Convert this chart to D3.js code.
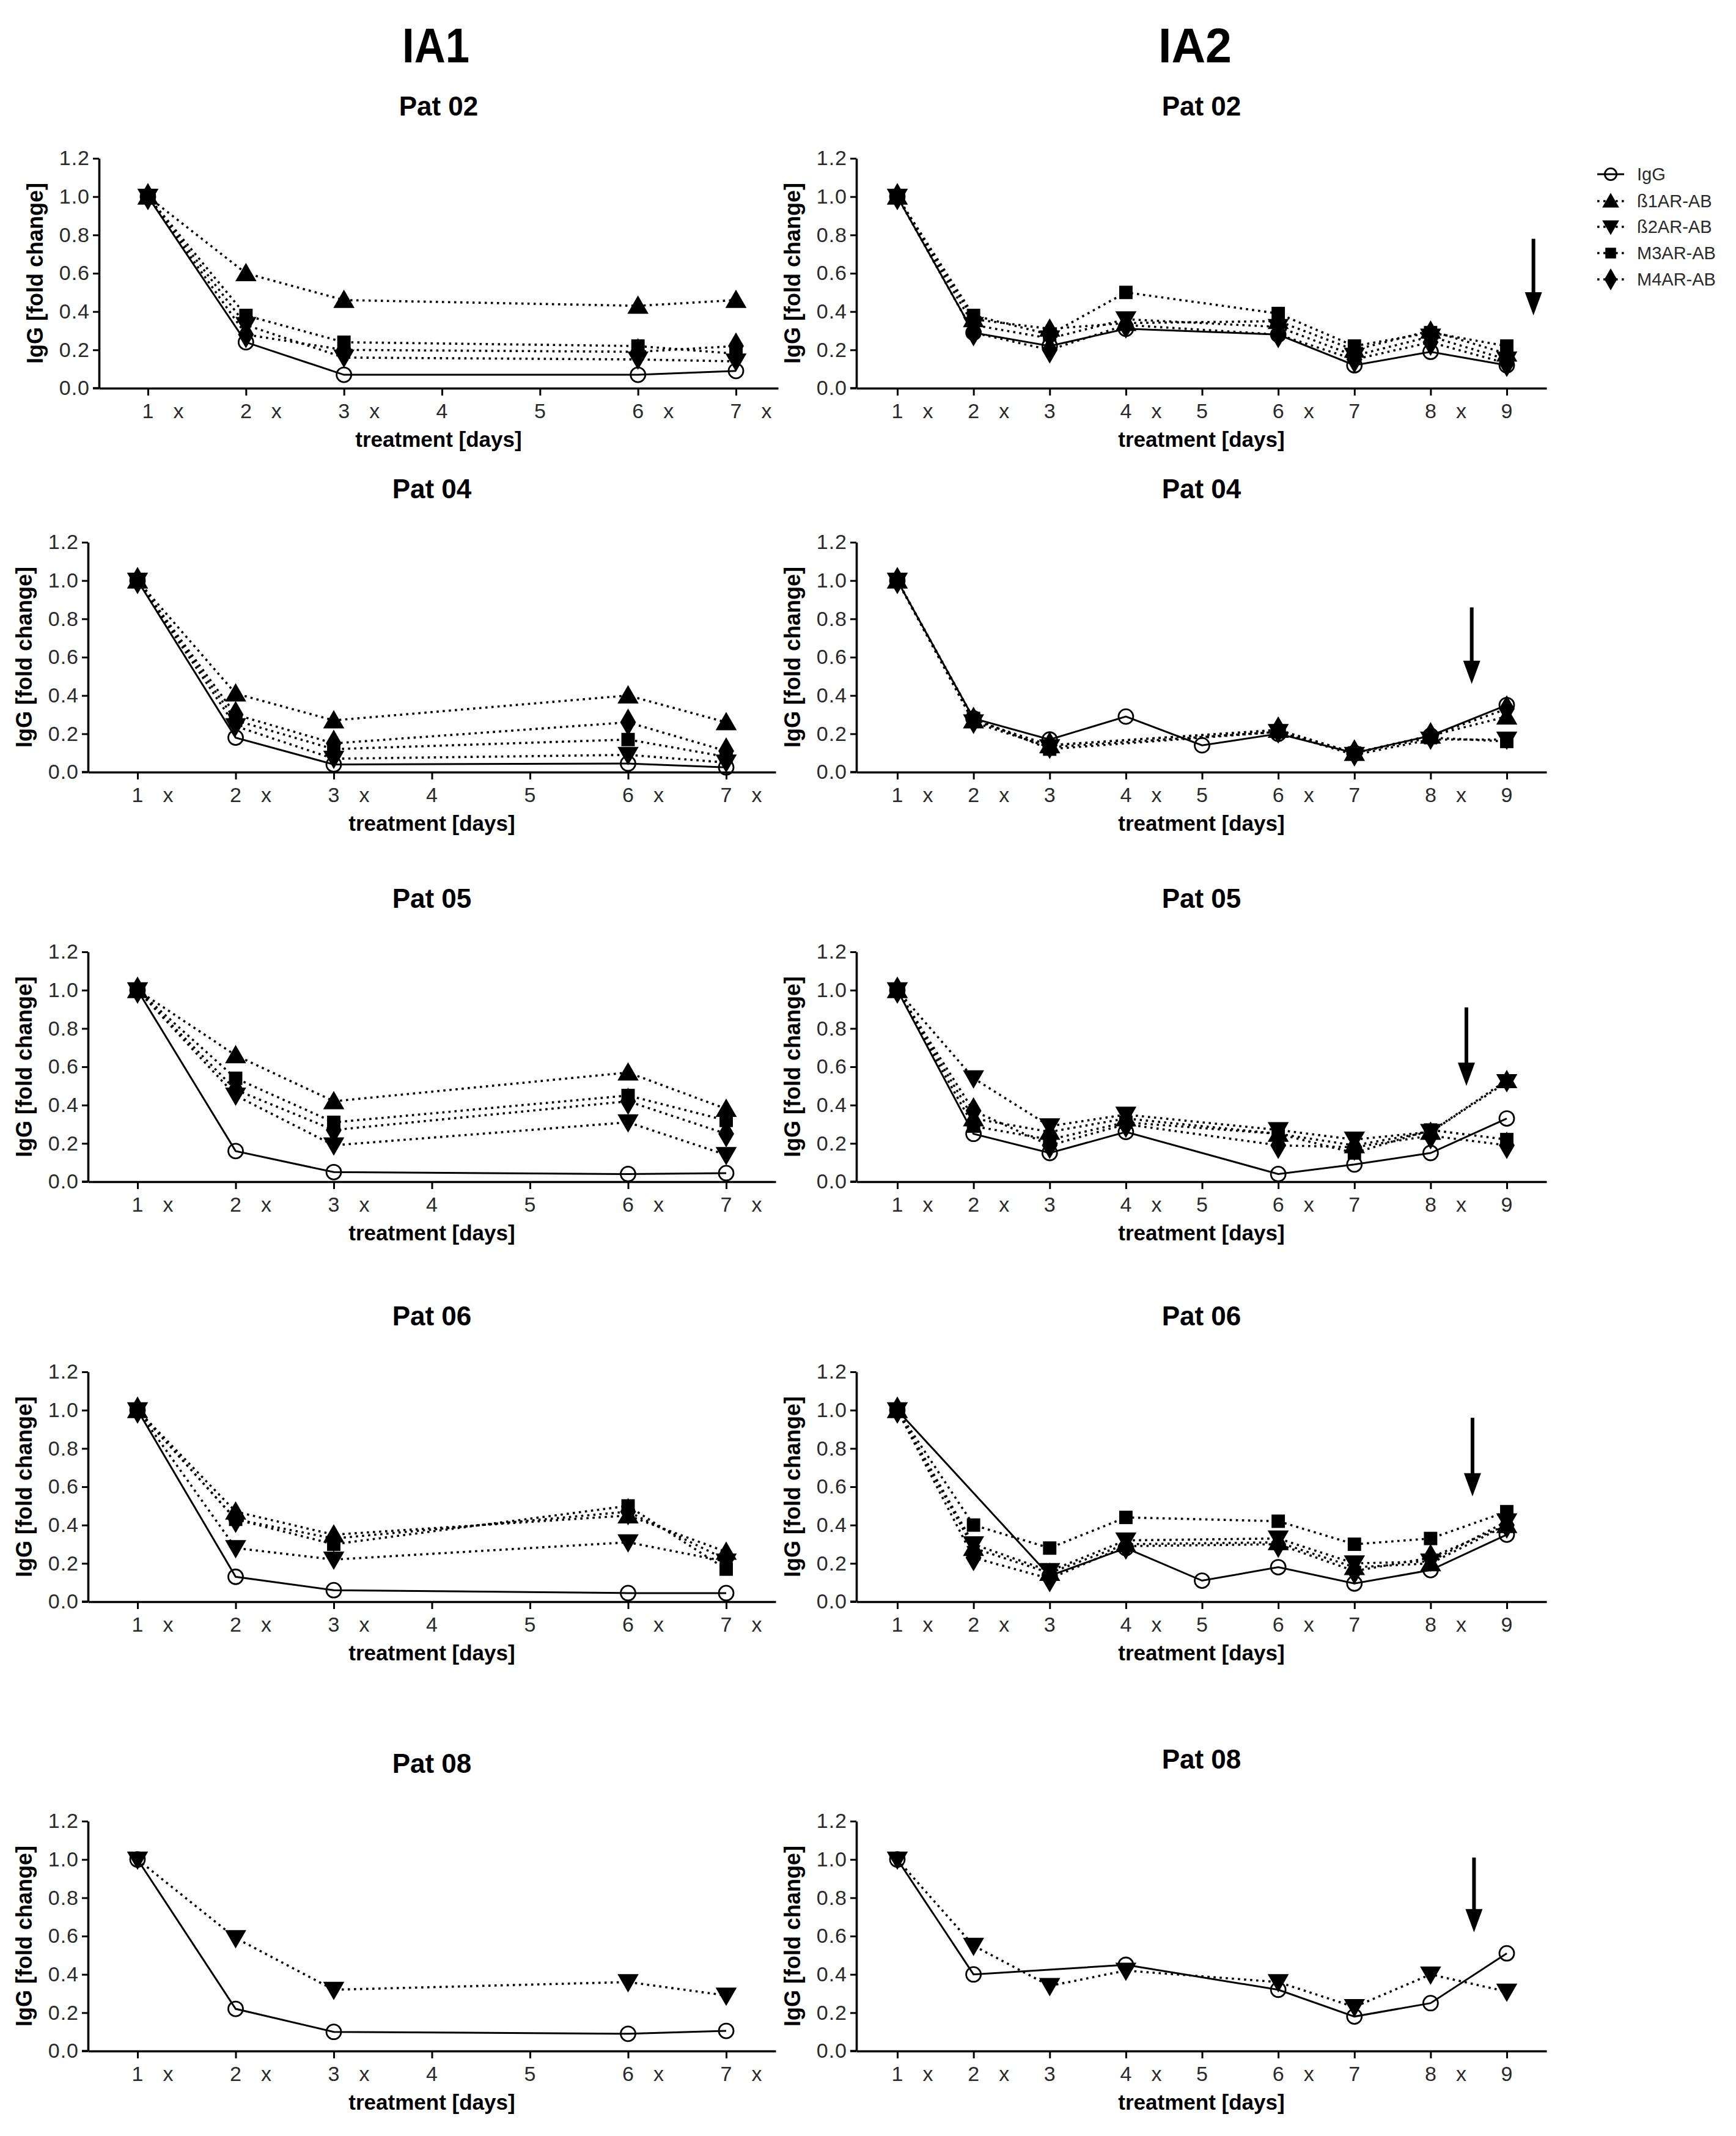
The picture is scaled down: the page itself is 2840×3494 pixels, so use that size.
<!DOCTYPE html>
<html><head><meta charset="utf-8">
<script src="https://cdn.jsdelivr.net/npm/d3@7"></script>
<style>body{margin:0;background:#fff} svg{display:block}</style>
</head><body>
<svg id="c" width="2840" height="3494"></svg>
<script>
// ---------------- DATA ----------------
const seriesNames = ["IgG", "ß1AR-AB", "ß2AR-AB", "M3AR-AB", "M4AR-AB"];
const groupTitles = ["IA1", "IA2"];
const patients = ["Pat 02", "Pat 04", "Pat 05", "Pat 06", "Pat 08"];
const ia1Days = [1, 2, 3, 6, 7];
const ia2Days = [1, 2, 3, 4, 5, 6, 7, 8, 9];
const ia1Ticks = [1, 2, 3, 4, 5, 6, 7];
const ia2Ticks = [1, 2, 3, 4, 5, 6, 7, 8, 9];
const ia1TreatDays = [1, 2, 3, 6, 7];   // days marked with "x"
const ia2TreatDays = [1, 2, 4, 6, 8];
const yTicks = [0, 0.2, 0.4, 0.6, 0.8, 1.0, 1.2];

// series order: IgG, ß1AR-AB, ß2AR-AB, M3AR-AB, M4AR-AB  (null = not measured)
const ia1Pat02 = [
  [1, 0.24, 0.07, 0.07, 0.09],
  [1, 0.60, 0.46, 0.43, 0.46],
  [1, 0.33, 0.16, 0.15, 0.14],
  [1, 0.38, 0.24, 0.22, 0.18],
  [1, 0.28, 0.20, 0.19, 0.22]
];
const ia1Pat04 = [
  [1, 0.18, 0.04, 0.045, 0.025],
  [1, 0.41, 0.27, 0.40, 0.26],
  [1, 0.24, 0.07, 0.09, 0.05],
  [1, 0.27, 0.12, 0.17, 0.08],
  [1, 0.30, 0.15, 0.26, 0.11]
];
const ia1Pat05 = [
  [1, 0.16, 0.05, 0.04, 0.045],
  [1, 0.66, 0.42, 0.57, 0.38],
  [1, 0.45, 0.19, 0.31, 0.14],
  [1, 0.54, 0.31, 0.45, 0.32],
  [1, 0.48, 0.27, 0.42, 0.25]
];
const ia1Pat06 = [
  [1, 0.13, 0.06, 0.045, 0.045],
  [1, 0.47, 0.35, 0.45, 0.26],
  [1, 0.28, 0.22, 0.31, 0.21],
  [1, 0.43, 0.30, 0.50, 0.17],
  [1, 0.43, 0.33, 0.47, 0.22]
];
const ia1Pat08 = [
  [1, 0.22, 0.10, 0.09, 0.105],
  null,
  [1, 0.59, 0.32, 0.36, 0.29],
  null,
  null
];
const ia2Pat02 = [
  [1, 0.29, 0.22, 0.31, null, 0.28, 0.12, 0.19, 0.12],
  [1, 0.36, 0.31, 0.34, null, 0.35, 0.20, 0.30, 0.18],
  [1, 0.33, 0.26, 0.36, null, 0.32, 0.17, 0.27, 0.15],
  [1, 0.38, 0.28, 0.50, null, 0.39, 0.22, 0.29, 0.22],
  [1, 0.29, 0.20, 0.33, null, 0.28, 0.15, 0.24, 0.13]
];
const ia2Pat04 = [
  [1, 0.28, 0.17, 0.29, 0.14, 0.20, 0.10, 0.19, 0.35],
  [1, 0.27, 0.14, null, null, 0.22, 0.10, 0.19, 0.29],
  [1, 0.26, 0.13, null, null, 0.21, 0.09, 0.17, 0.17],
  [1, 0.28, 0.12, null, null, 0.21, 0.10, 0.18, 0.16],
  [1, 0.27, 0.14, null, null, 0.22, 0.10, 0.19, 0.33]
];
const ia2Pat05 = [
  [1, 0.25, 0.15, 0.26, null, 0.04, 0.09, 0.15, 0.33],
  [1, 0.33, 0.26, 0.33, null, 0.25, 0.19, 0.26, 0.53],
  [1, 0.54, 0.29, 0.35, null, 0.27, 0.22, 0.26, 0.52],
  [1, 0.29, 0.22, 0.31, null, 0.25, 0.15, 0.27, 0.22],
  [1, 0.37, 0.19, 0.30, null, 0.19, 0.18, 0.24, 0.19]
];
const ia2Pat06 = [
  [1, null, 0.135, 0.28, 0.11, 0.18, 0.095, 0.165, 0.35],
  [1, 0.28, 0.15, 0.30, null, 0.31, 0.18, 0.20, 0.40],
  [1, 0.30, 0.16, 0.32, null, 0.33, 0.20, 0.21, 0.42],
  [1, 0.40, 0.28, 0.44, null, 0.42, 0.30, 0.33, 0.47],
  [1, 0.23, 0.12, 0.29, null, 0.30, 0.16, 0.23, 0.40]
];
const ia2Pat08 = [
  [1, 0.40, null, 0.45, null, 0.32, 0.18, 0.25, 0.51],
  null,
  [1, 0.55, 0.34, 0.42, null, 0.36, 0.23, 0.40, 0.31],
  null,
  null
];
// arrows in IA2 panels (day position, top value, tip value)
const arrowDay = [9.35, 8.54, 8.47, 8.55, 8.57];
const arrowTop = [0.78, 0.86, 0.91, 0.96, 1.01];
const arrowTip = [0.38, 0.46, 0.50, 0.55, 0.62];

const ia1Panels = [ia1Pat02, ia1Pat04, ia1Pat05, ia1Pat06, ia1Pat08];
const ia2Panels = [ia2Pat02, ia2Pat04, ia2Pat05, ia2Pat06, ia2Pat08];

// ---------------- LAYOUT ----------------
const rowY = [[259, 635], [887, 1263], [1557, 1933], [2244, 2620], [2979, 3355]];
const titleBase = [[189, 189], [815, 815], [1485, 1485], [2168, 2168], [2900, 2893]];
function colLayout(c, r) {
  if (c === 1) return {axisX: 1401, t1: 1468, tN: 2465, end: 2530};
  if (r === 0) return {axisX: 162, t1: 242, tN: 1204, end: 1273};
  return {axisX: 144, t1: 225, tN: 1188, end: 1269};
}
const FONT = "'Liberation Sans', Arial, Helvetica, sans-serif";
const svg = d3.select("#c");

const symbolTypes = [d3.symbolCircle, d3.symbolTriangle, d3.symbolTriangle, d3.symbolSquare, d3.symbolDiamond];
const symbolRot = [0, 0, 180, 0, 0];
function drawMarker(g, s, cx, cy, scale) {
  if (s === 0) {
    g.append("circle").attr("cx", cx).attr("cy", cy).attr("r", 12 * scale)
      .attr("fill", "none").attr("stroke", "#000").attr("stroke-width", 2.8);
  } else {
    const sizes = [0, 520, 520, 480, 580];
    const dy = s === 1 ? 3 : (s === 2 ? -3 : 0);
    g.append("path")
      .attr("d", d3.symbol().type(symbolTypes[s]).size(sizes[s] * scale * scale)())
      .attr("transform", `translate(${cx},${cy + dy * scale}) rotate(${symbolRot[s]})`)
      .attr("fill", "#000");
  }
}
function styleLine(sel, s) {
  sel.attr("fill", "none").attr("stroke", "#000");
  if (s === 0) sel.attr("stroke-width", 3);
  else sel.attr("stroke-width", 3.6).attr("stroke-dasharray", "3.6 6.4");
}

// group titles
groupTitles.forEach((t, c) => {
  svg.append("text").text(t)
    .attr("x", c === 0 ? 713 : 1955).attr("y", 102)
    .attr("text-anchor", "middle").attr("font-family", FONT)
    .attr("font-weight", "bold").attr("font-size", 80)
    .attr("textLength", c === 0 ? 110 : 120).attr("lengthAdjust", "spacingAndGlyphs");
});

for (let c = 0; c < 2; c++) {
  for (let r = 0; r < 5; r++) {
    const L = colLayout(c, r);
    const days = c === 0 ? ia1Days : ia2Days;
    const ticks = c === 0 ? ia1Ticks : ia2Ticks;
    const treat = c === 0 ? ia1TreatDays : ia2TreatDays;
    const panel = (c === 0 ? ia1Panels : ia2Panels)[r];
    const [yTop, y0] = rowY[r];
    const lastTick = ticks[ticks.length - 1];
    const xb = d3.scaleLinear().domain([1, lastTick]).range([L.t1, L.tN]);
    const x = d3.scaleLinear().domain([xb.invert(L.axisX), xb.invert(L.end)]).range([L.axisX, L.end]);
    const y = d3.scaleLinear().domain([0, 1.2]).range([y0, yTop]);
    const g = svg.append("g");

    // title
    g.append("text").text(patients[r])
      .attr("x", (L.axisX + L.end) / 2).attr("y", titleBase[r][c])
      .attr("text-anchor", "middle").attr("font-family", FONT)
      .attr("font-weight", "bold").attr("font-size", 44);

    // axes
    const ax = g.append("g").attr("transform", `translate(0,${y0})`)
      .call(d3.axisBottom(x).tickValues(ticks).tickFormat(d3.format("d"))
        .tickSize(12).tickPadding(13).tickSizeOuter(0));
    const ay = g.append("g").attr("transform", `translate(${L.axisX},0)`)
      .call(d3.axisLeft(y).tickValues(yTicks).tickFormat(d3.format(".1f"))
        .tickSize(10).tickPadding(5).tickSizeOuter(0));
    [ax, ay].forEach(a => {
      a.select(".domain").attr("stroke", "#000").attr("stroke-width", 3.6);
      a.selectAll(".tick line").attr("stroke", "#000").attr("stroke-width", 3);
      a.selectAll(".tick text").attr("font-family", FONT).attr("font-size", 34)
        .attr("fill", "#2a2a2a").attr("letter-spacing", 1);
    });
    // extend x axis line under y-axis tick
    g.append("line").attr("x1", L.axisX - 10).attr("x2", L.axisX).attr("y1", y0).attr("y2", y0)
      .attr("stroke", "#000").attr("stroke-width", 3.6);

    // "x" treatment markers on axis
    treat.forEach(t => {
      g.append("text").text("x").attr("x", x(t) + 50).attr("y", y0 + 49)
        .attr("text-anchor", "middle").attr("font-family", FONT).attr("font-size", 34)
        .attr("fill", "#2a2a2a");
    });

    // axis titles
    g.append("text").text("treatment [days]")
      .attr("x", (L.axisX + L.end) / 2).attr("y", y0 + 96)
      .attr("text-anchor", "middle").attr("font-family", FONT)
      .attr("font-weight", "bold").attr("font-size", 35);
    g.append("text").text("IgG [fold change]")
      .attr("transform", `translate(${L.axisX - 92},${(y0 + yTop) / 2}) rotate(-90)`)
      .attr("text-anchor", "middle").attr("font-family", FONT)
      .attr("font-weight", "bold").attr("font-size", 36);

    // lines
    const line = d3.line().x(p => x(p.d)).y(p => y(p.v));
    const order = [1, 2, 3, 4, 0];
    order.forEach(s => {
      const vals = panel[s];
      if (!vals) return;
      const pts = days.map((d, i) => ({d, v: vals[i]})).filter(p => p.v != null);
      styleLine(g.append("path").attr("d", line(pts)), s);
    });
    order.forEach(s => {
      const vals = panel[s];
      if (!vals) return;
      days.forEach((d, i) => {
        if (vals[i] != null) drawMarker(g, s, x(d), y(vals[i]), 1);
      });
    });

    // arrow
    if (c === 1) {
      const ax0 = x(arrowDay[r]);
      const yt = y(arrowTop[r]), yp = y(arrowTip[r]);
      const head = 38;
      g.append("line").attr("x1", ax0).attr("x2", ax0).attr("y1", yt).attr("y2", yp - head + 2)
        .attr("stroke", "#000").attr("stroke-width", 6);
      g.append("path")
        .attr("d", d3.line()([[ax0 - 14, yp - head], [ax0 + 14, yp - head], [ax0, yp]]) + "Z")
        .attr("fill", "#000");
    }
  }
}

// legend
const legY = [285, 329, 371, 414, 457];
const lg = svg.append("g");
seriesNames.forEach((n, s) => {
  const yy = legY[s];
  styleLine(lg.append("line").attr("x1", 2613).attr("x2", 2657).attr("y1", yy).attr("y2", yy), s);
  drawMarker(lg, s, 2635, yy, 0.8);
  lg.append("text").text(n).attr("x", 2678).attr("y", yy).attr("dy", "0.36em")
    .attr("font-family", FONT).attr("font-size", 29).attr("fill", "#2a2a2a");
});
</script>
</body></html>
